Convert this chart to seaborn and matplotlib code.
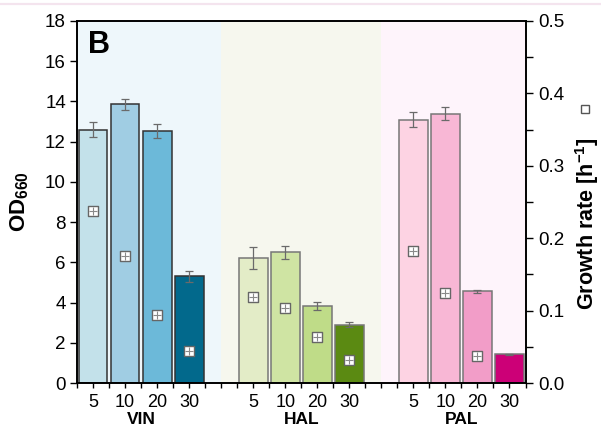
import numpy as np
import pandas as pd
import seaborn as sns
import matplotlib.pyplot as plt
from matplotlib.lines import Line2D
import matplotlib.transforms as mtransforms

sns.set_theme(style="ticks")
plt.rcParams['font.family'] = ['Liberation Sans', 'DejaVu Sans']
plt.rcParams['mathtext.fontset'] = 'custom'
plt.rcParams['mathtext.rm'] = 'Liberation Sans'
plt.rcParams['mathtext.bf'] = 'Liberation Sans:bold'
for k in ('text.color', 'axes.labelcolor', 'xtick.color', 'ytick.color'):
    plt.rcParams[k] = 'black'

# data
groups = ["VIN", "HAL", "PAL"]
conc_labels = ["5", "10", "20", "30"]

od_vin = [12.6, 13.85, 12.53, 5.3]
od_vin_err = [0.38, 0.27, 0.33, 0.27]
od_hal = [6.2, 6.5, 3.83, 2.9]
od_hal_err = [0.55, 0.32, 0.18, 0.12]
od_pal = [13.1, 13.4, 4.55, 1.43]
od_pal_err = [0.38, 0.30, 0.09, 0.03]

mu_vin = [0.238, 0.175, 0.0945, 0.044]
mu_hal = [0.119, 0.103, 0.063, 0.032]
mu_pal = [0.182, 0.125, 0.037, np.nan]

bar_colors = {
    "VIN": ["#c3e1ea", "#a0cde3", "#6cb9d9", "#02698c"],
    "HAL": ["#e3ecc7", "#cfe4a3", "#bfdc88", "#5b8a12"],
    "PAL": ["#fdd3e3", "#f8b7d5", "#f29dc8", "#cc0077"],
}
edge_colors = {"VIN": "#333333", "HAL": "#777777", "PAL": "#777777"}
bg_colors = {"VIN": "#eef7fb", "HAL": "#f6f7ee", "PAL": "#fef4fb"}

od = {"VIN": od_vin, "HAL": od_hal, "PAL": od_pal}
od_err = {"VIN": od_vin_err, "HAL": od_hal_err, "PAL": od_pal_err}
mu = {"VIN": mu_vin, "HAL": mu_hal, "PAL": mu_pal}

rows = []
for g_i, g in enumerate(groups):
    for c_i, c in enumerate(conc_labels):
        rows.append({
            "key": f"{g}{c}", "group": g, "conc": c,
            "pos": g_i * 5 + c_i,
            "od": od[g][c_i], "err": od_err[g][c_i], "mu": mu[g][c_i],
            "color": bar_colors[g][c_i],
        })
df = pd.DataFrame(rows)

fig = plt.figure(figsize=(6.01, 4.28), dpi=100)
ax = fig.add_axes([77 / 601, 1 - 383 / 428, 448.5 / 601, 362 / 428])

# shaded group backgrounds
ax.axvspan(-0.5, 4, color=bg_colors["VIN"], zorder=0, lw=0)
ax.axvspan(4, 9, color=bg_colors["HAL"], zorder=0, lw=0)
ax.axvspan(9, 13.5, color=bg_colors["PAL"], zorder=0, lw=0)

sns.barplot(data=df, x="pos", y="od", hue="key", hue_order=list(df["key"]),
            palette=dict(zip(df["key"], df["color"])), native_scale=True,
            dodge=False, width=0.9, errorbar=None, legend=False,
            saturation=1, linewidth=1.1, ax=ax, zorder=2)
for cont, g in zip(ax.containers, df["group"]):
    for p in cont.patches:
        p.set_edgecolor(edge_colors[g])

ax.errorbar(df["pos"], df["od"], yerr=df["err"], fmt="none", ecolor="#6a6a6a",
            elinewidth=0.9, capsize=3, capthick=0.9, zorder=3)

ax.set_xlim(-0.5, 13.5)
ax.set_ylim(0, 18)
ax.set_yticks(np.arange(0, 19, 2))
ax.set_xticks(np.arange(0, 14))
xt = []
for i in range(14):
    xt.append(conc_labels[i % 5] if i % 5 < 4 else "")
ax.set_xticklabels(xt)
ax.set_xticks(np.arange(-0.5, 14, 1), minor=True)
ax.set_xlabel("")
ax.set_ylabel("")
ax.tick_params(axis="x", which="both", direction="out", length=3.5, width=1,
               color="black", labelsize=13, pad=4.5)
ax.tick_params(axis="y", direction="out", length=5, width=1, color="black",
               labelsize=13.5, pad=3)

# growth rate on the right axis
ax2 = ax.twinx()
sns.scatterplot(data=df, x="pos", y="mu", marker="s", s=50, color="white",
                edgecolor="#666666", linewidth=1, ax=ax2, zorder=4)
ax2.scatter(df["pos"], df["mu"], marker="+", s=40, color="#8a8a8a",
            linewidth=0.8, zorder=5)
ax2.set_xlim(-0.5, 13.5)
ax2.set_ylim(0, 0.5)
ax2.set_yticks(np.arange(0, 0.51, 0.1))
ax2.set_yticks(np.arange(0.05, 0.5, 0.1), minor=True)
ax2.yaxis.set_major_formatter(plt.FuncFormatter(lambda v, p: f"{v:.1f}"))
ax2.set_xlabel("")
ax2.set_ylabel("")
ax2.tick_params(axis="y", which="both", direction="out", length=5, width=1,
                color="black", labelsize=13.5, pad=4)

for a in (ax, ax2):
    for s in a.spines.values():
        s.set_color("black")
        s.set_linewidth(1.2)

ax.text(0.024, 0.975, "B", transform=ax.transAxes, fontsize=22,
        fontweight="bold", va="top", ha="left")

fig.text(20 / 601, 1 - 202 / 428, r"OD$_{\mathbf{660}}$", rotation=90,
         fontsize=16, fontweight="bold", ha="center", va="center")
fig.text(587 / 601, 1 - 224 / 428, r"Growth rate [h$^{\mathbf{-1}}$]",
         rotation=90, fontsize=15.5, fontweight="bold", ha="center",
         va="center")
fig.add_artist(Line2D([585 / 601], [1 - 109 / 428], marker="s", ms=6.3,
                      mfc="white", mec="#555555", mew=1,
                      transform=fig.transFigure))

# group names under the concentration labels
trans = mtransforms.blended_transform_factory(ax.transData, fig.transFigure)
for g_i, g in enumerate(groups):
    ax.text(g_i * 5 + 1.5, 1 / 428, g, transform=trans, fontsize=12.5,
            fontweight="bold", ha="center", va="bottom", clip_on=False)

# faint line at the very top of the screenshot
fig.add_artist(Line2D([0, 1], [1 - 3.5 / 428, 1 - 3.5 / 428], color="#f4e4ee",
                      lw=1.6, transform=fig.transFigure))

fig.savefig("out.png", dpi=100)
